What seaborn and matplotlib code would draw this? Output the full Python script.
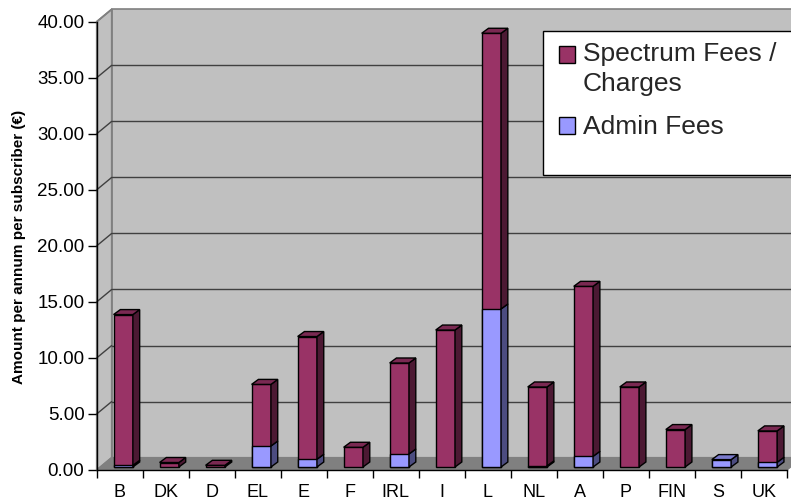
import numpy as np
import pandas as pd
import matplotlib
matplotlib.use("Agg")
import matplotlib.pyplot as plt
import seaborn as sns
from matplotlib.patches import Polygon, Rectangle, Patch
from matplotlib.transforms import ScaledTranslation

# ---------------- data ----------------
countries = ["B", "DK", "D", "EL", "E", "F", "IRL", "I", "L", "NL", "A", "P", "FIN", "S", "UK"]
spectrum_fees = [13.45, 0.40, 0.15, 5.50, 10.95, 1.76, 8.12, 12.22, 24.60, 7.04, 15.17, 7.14, 3.34, 0.00, 2.80]
admin_fees = [0.15, 0.00, 0.00, 1.87, 0.69, 0.00, 1.16, 0.00, 14.10, 0.10, 0.95, 0.00, 0.00, 0.66, 0.42]
y_ticks = [0, 5, 10, 15, 20, 25, 30, 35, 40]
legend_labels = ["Spectrum Fees /\nCharges", "Admin Fees"]
y_label = "Amount per annum per subscriber (\u20ac)"

# ---------------- style ----------------
SPEC, SPEC_SIDE, SPEC_TOP = "#993366", "#4c1933", "#7a2952"
ADM, ADM_SIDE, ADM_TOP = "#9999ff", "#4c4c80", "#7a7acc"
WALL, FLOOR, WALL_EDGE, GRID = "#c0c0c0", "#808080", "#808080", "#404040"

sns.set_theme(style="white")
plt.rcParams["font.family"] = ["Liberation Sans", "DejaVu Sans"]

W, H = 791, 501
fig = plt.figure(figsize=(W / 100, H / 100), dpi=100)
fig.patch.set_facecolor("white")

# front plane of the chart, in pixels
axL, axR, axT, axB = 96.7, 787.0, 21.7, 470.0
ax = fig.add_axes([axL / W, 1 - axB / H, (axR - axL) / W, (axB - axT) / H])
ax.patch.set_visible(False)

pxx = (axR - axL) / len(countries)
pxy = (axB - axT) / 40.0


def ux(px):
    return px / pxx


def uy(px):
    return px / pxy


depth_x, depth_y = ux(15), uy(12.4)

df = pd.DataFrame({"country": countries, "spectrum": spectrum_fees, "admin": admin_fees})
df["total"] = df["spectrum"] + df["admin"]

# walls and floor
x0 = -0.5
ax.add_patch(Rectangle((x0 + depth_x, depth_y), 30, 40, fc=WALL, ec=WALL_EDGE, lw=1.2,
                       clip_on=False, zorder=0))
ax.add_patch(Polygon([(x0, 0), (x0, 40), (x0 + depth_x, 40 + depth_y), (x0 + depth_x, depth_y)],
                     closed=True, fc=WALL, ec=WALL_EDGE, lw=1.2, clip_on=False, zorder=0.5))
ax.add_patch(Polygon([(x0, 0), (14.5, 0), (14.5 + depth_x, depth_y), (x0 + depth_x, depth_y)],
                     closed=True, fc=FLOOR, ec=FLOOR, lw=1, clip_on=False, zorder=0.6))
for v in y_ticks[1:-1]:
    ax.plot([x0 + depth_x, 30], [v + depth_y] * 2, color=GRID, lw=1, clip_on=False, zorder=1)
    ax.plot([x0, x0 + depth_x], [v, v + depth_y], color=GRID, lw=1, clip_on=False, zorder=1)
ax.plot([x0, x0 + depth_x], [40, 40 + depth_y], color=WALL_EDGE, lw=1.2, clip_on=False, zorder=1)

# bars (front faces) via seaborn
n0 = len(ax.patches)
sns.barplot(data=df, x="country", y="total", color=SPEC, saturation=1, width=0.42,
            edgecolor="black", linewidth=1, ax=ax, zorder=3)
n1 = len(ax.patches)
sns.barplot(data=df, x="country", y="admin", color=ADM, saturation=1, width=0.42,
            edgecolor="black", linewidth=1, ax=ax, zorder=3)
n2 = len(ax.patches)

off = ax.transData + ScaledTranslation(3.5 / 100, 3.0 / 100, fig.dpi_scale_trans)
tot_patches = ax.patches[n0:n1]
adm_patches = ax.patches[n1:n2]
for p in ax.patches[n0:n2]:
    p.set_transform(off)
for p in adm_patches:
    if p.get_height() <= 0:
        p.set_visible(False)

bdx, bdy = ux(6.8), uy(5.0)
for i, p in enumerate(tot_patches):
    xl = p.get_x()
    xr = xl + p.get_width()
    t = p.get_height()
    a = adm_patches[i].get_height()
    s = t - a
    if a > 0:
        ax.add_patch(Polygon([(xr, 0), (xr, a), (xr + bdx, a + bdy), (xr + bdx, bdy)], closed=True,
                             fc=ADM_SIDE, ec="black", lw=1, transform=off, clip_on=False, zorder=3))
    if s > 0:
        ax.add_patch(Polygon([(xr, a), (xr, t), (xr + bdx, t + bdy), (xr + bdx, a + bdy)], closed=True,
                             fc=SPEC_SIDE, ec="black", lw=1, transform=off, clip_on=False, zorder=3))
    top_c = SPEC_TOP if s > 0 else ADM_TOP
    ax.add_patch(Polygon([(xl, t), (xr, t), (xr + bdx, t + bdy), (xl + bdx, t + bdy)], closed=True,
                         fc=top_c, ec="black", lw=1, transform=off, clip_on=False, zorder=3))

# axes
ax.set_xlim(-0.5, 14.5)
ax.set_ylim(0, 40)
ax.set_yticks(y_ticks)
ax.set_yticklabels([f"{v:.2f}" for v in y_ticks], fontsize=13.5)
ax.set_xticks(range(len(countries)))
ax.set_xticklabels(countries, fontsize=13)
ax.set_xticks(np.arange(-0.5, len(countries), 1.0), minor=True)
ax.tick_params(axis="y", which="major", left=True, direction="out", length=6.8, width=1,
               color="black", pad=2, labelcolor="black")
ax.tick_params(axis="x", which="major", bottom=True, length=0, pad=10, labelcolor="black")
ax.tick_params(axis="x", which="minor", bottom=True, direction="out", length=5.8, width=1, color="black")
for sp in ["top", "right"]:
    ax.spines[sp].set_visible(False)
for sp in ["left", "bottom"]:
    ax.spines[sp].set_visible(True)
    ax.spines[sp].set_color("black")
    ax.spines[sp].set_linewidth(1)
    ax.spines[sp].set_zorder(4)
ax.set_xlabel("")
ax.set_ylabel(y_label, fontsize=11, fontweight="bold", color="black")
ax.yaxis.set_label_coords((26 - axL) / (axR - axL), (axB - 246.5) / (axB - axT))

# legend
fig.add_artist(Rectangle((543.3 / W, 1 - 175 / H), (805 - 543.3) / W, (175 - 30.7) / H,
                         transform=fig.transFigure, fc="white", ec="black", lw=1, zorder=5))
handles = [Patch(facecolor=SPEC, edgecolor="black", linewidth=1),
           Patch(facecolor=ADM, edgecolor="black", linewidth=1)]
leg = fig.legend(handles, legend_labels, loc="upper left", bbox_to_anchor=(559 / W, 1 - 42 / H),
                 bbox_transform=fig.transFigure, frameon=False, fontsize=19, borderpad=0,
                 borderaxespad=0, handlelength=0.606, handleheight=0.606, handletextpad=0.29,
                 labelspacing=0.75)
leg.set_zorder(6)
for t in leg.get_texts():
    t.set_linespacing(1.3)
h0 = leg.legend_handles[0]
h0.set_y(h0.get_y() + 0.5 * 29 * 0.72)

fig.savefig("out.png", dpi=100)
